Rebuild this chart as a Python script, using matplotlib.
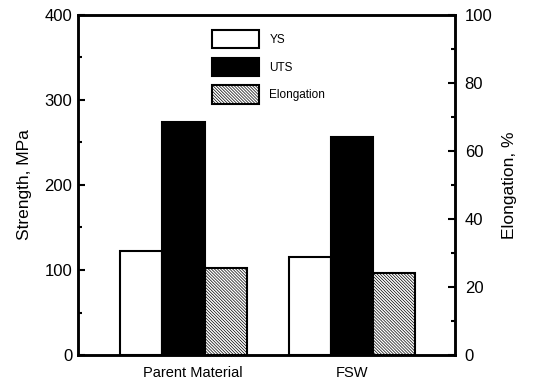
import matplotlib
matplotlib.use("Agg")
import matplotlib.pyplot as plt
import numpy as np
from matplotlib.ticker import MultipleLocator
from matplotlib.transforms import ScaledTranslation

categories = ["Parent Material", "FSW"]
ys = [122, 115]
uts = [274, 257]
elong = [25.5, 24.0]

plt.rcParams['font.family'] = ['Liberation Sans', 'DejaVu Sans']
plt.rcParams['hatch.linewidth'] = 0.5

fig = plt.figure(figsize=(5.34, 3.84), dpi=100)
ax = fig.add_axes([0.146, 0.0755, 0.706, 0.8855])
ax2 = ax.twinx()

x = np.arange(len(categories))
w = 0.25
b1 = ax.bar(x - w, ys, w, facecolor='white', edgecolor='black', linewidth=1.5, label='YS')
b2 = ax.bar(x, uts, w, facecolor='black', edgecolor='black', linewidth=1.5, label='UTS')
b3 = ax2.bar(x + w, elong, w, facecolor='white', edgecolor='black', linewidth=1.5,
             hatch='\\' * 11, label='Elongation')

ax.set_xlim(-0.626, 1.611)
ax.set_ylim(0, 400)
ax2.set_ylim(0, 100)
ax.set_xticks(x)
ax.set_xticklabels(categories, fontsize=10.5)
ax.tick_params(axis='x', length=0, pad=8)
lbl0 = ax.get_xticklabels()[0]
lbl0.set_transform(lbl0.get_transform() + ScaledTranslation(9/100, 0, fig.dpi_scale_trans))

ax.yaxis.set_major_locator(MultipleLocator(100))
ax.yaxis.set_minor_locator(MultipleLocator(50))
ax2.yaxis.set_major_locator(MultipleLocator(20))
ax2.yaxis.set_minor_locator(MultipleLocator(10))
ax.tick_params(axis='y', which='major', direction='in', length=5, width=1.5, labelsize=12, pad=4)
ax2.tick_params(axis='y', which='major', direction='in', length=5, width=1.5, labelsize=12, pad=7)
for a in (ax, ax2):
    a.tick_params(axis='y', which='minor', direction='in', length=3, width=1.5)
    for s in a.spines.values():
        s.set_linewidth(1.8)

ax.set_ylabel('Strength, MPa', fontsize=12.5, labelpad=9)
ax2.set_ylabel('Elongation, %', fontsize=12.5, labelpad=7)

fig.legend(handles=[b1, b2, b3], loc='upper left',
           bbox_to_anchor=(212/534, 1 - 30/384), frameon=False,
           fontsize=8.5, borderpad=0, borderaxespad=0,
           handlelength=4.0, handleheight=2.0, labelspacing=0.8, handletextpad=0.85)

fig.savefig('out.png', dpi=100)
